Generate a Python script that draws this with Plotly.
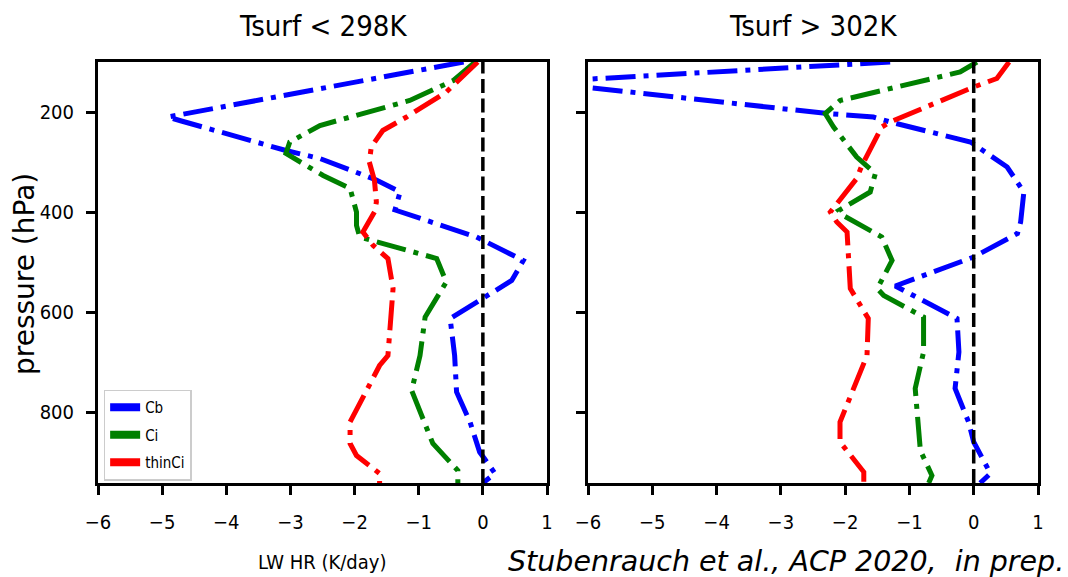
import plotly.graph_objects as go

# ---------------- data ----------------
# Left panel: Tsurf < 298K
cb_left_p = [100, 210, 218, 277, 293, 336, 360, 396, 450, 497, 537, 613, 687, 760, 820, 880, 923, 942]
cb_left_x = [-0.30, -4.91, -4.70, -3.07, -2.54, -1.66, -1.29, -1.37, -0.10, 0.63, 0.45, -0.51, -0.44, -0.41, -0.20, -0.05, 0.19, 0.00]

ci_left_p = [100, 137, 177, 227, 260, 283, 327, 353, 400, 427, 450, 493, 540, 610, 687, 757, 863, 917, 942]
ci_left_x = [-0.12, -0.46, -1.14, -2.54, -3.01, -3.07, -2.49, -2.07, -1.97, -1.97, -1.92, -0.72, -0.57, -0.90, -0.98, -1.11, -0.78, -0.39, -0.39]

thin_left_p = [100, 160, 210, 237, 270, 300, 337, 380, 400, 440, 467, 493, 553, 687, 707, 820, 863, 887, 923, 942]
thin_left_x = [-0.08, -0.57, -1.19, -1.56, -1.74, -1.77, -1.69, -1.66, -1.69, -1.87, -1.71, -1.48, -1.40, -1.48, -1.61, -2.07, -2.07, -1.97, -1.61, -1.61]

# Right panel: Tsurf > 302K
cb_right_p = [100, 140, 203, 210, 220, 243, 260, 310, 360, 420, 443, 490, 548, 613, 680, 753, 820, 860, 923, 942]
cb_right_x = [-1.30, -6.78, -2.28, -1.56, -1.30, -0.62, -0.05, 0.52, 0.78, 0.73, 0.68, 0.00, -1.22, -0.26, -0.23, -0.29, -0.08, 0.00, 0.26, 0.10]

ci_right_p = [100, 120, 177, 203, 230, 290, 323, 360, 397, 407, 450, 497, 553, 567, 610, 680, 753, 877, 927, 942]
ci_right_x = [0.05, -0.21, -2.08, -2.31, -2.18, -1.82, -1.53, -1.61, -2.10, -2.03, -1.43, -1.27, -1.50, -1.40, -0.78, -0.78, -0.91, -0.83, -0.65, -0.70]

thin_right_p = [100, 133, 150, 220, 230, 307, 333, 400, 420, 440, 553, 613, 687, 820, 860, 920, 942]
thin_right_x = [0.55, 0.36, 0.00, -1.30, -1.43, -1.74, -1.82, -2.23, -2.13, -1.97, -1.92, -1.64, -1.66, -2.08, -2.08, -1.71, -1.71]

series_names = ["Cb", "Ci", "thinCi"]
series_colors = ["blue", "green", "red"]
titles = ["Tsurf < 298K", "Tsurf > 302K"]
x_ticks = [-6, -5, -4, -3, -2, -1, 0, 1]
y_ticks = [200, 400, 600, 800]

# ---------------- figure ----------------
COND = "DejaVu Sans Condensed, Liberation Sans Narrow, DejaVu Sans"
DASHDOT = "30px,8px,5px,8px"
LW = 5

fig = go.Figure()

panels = [
    ("x", "y", [(cb_left_x, cb_left_p), (ci_left_x, ci_left_p), (thin_left_x, thin_left_p)]),
    ("x2", "y2", [(cb_right_x, cb_right_p), (ci_right_x, ci_right_p), (thin_right_x, thin_right_p)]),
]
for xa, ya, sers in panels:
    for (xs, ps), name, col in zip(sers, series_names, series_colors):
        fig.add_trace(go.Scatter(
            x=xs, y=ps, mode="lines", name=name, xaxis=xa, yaxis=ya,
            line=dict(color=col, width=LW, dash=DASHDOT),
            showlegend=False, hoverinfo="skip"))

# legend proxies (solid swatches)
for i, (name, col) in enumerate(zip(series_names, series_colors)):
    fig.add_trace(go.Scatter(
        x=[None], y=[None], mode="lines", name=name, xaxis="x", yaxis="y",
        line=dict(color=col, width=8), legendgroup="g%d" % i, showlegend=True))

# zero lines
for xr, yr in [("x", "y domain"), ("x2", "y2 domain")]:
    fig.add_shape(type="line", xref=xr, yref=yr, x0=0, x1=0, y0=0, y1=1,
                  line=dict(color="black", width=3.5, dash="14px,5.5px"))

axis_common = dict(
    showline=True, linecolor="black", linewidth=3, mirror=True,
    ticks="outside", ticklen=9, tickwidth=2.5, tickcolor="black",
    showgrid=False, zeroline=False,
    tickfont=dict(family=COND, size=20, color="black"),
)

left_dom = [0, 449 / 940]
right_dom = [490 / 940, 1]

fig.update_layout(
    width=1068, height=577,
    margin=dict(l=98, r=30, t=62, b=94),
    paper_bgcolor="white", plot_bgcolor="white",
    showlegend=True,
    legend=dict(
        x=0.006, y=0.222, xanchor="left", yanchor="top",
        bgcolor="rgba(255,255,255,0.85)", bordercolor="#cccccc", borderwidth=1.5,
        font=dict(family=COND, size=15, color="black"),
        itemwidth=30, tracegroupgap=5,
    ),
    xaxis=dict(domain=left_dom, range=[-6, 1], tickvals=x_ticks,
               ticktext=["\u2212%d" % -v if v < 0 else str(v) for v in x_ticks],
               anchor="y", ticklabelstandoff=10, **axis_common),
    xaxis2=dict(domain=right_dom, range=[-6, 1], tickvals=x_ticks,
                ticktext=["\u2212%d" % -v if v < 0 else str(v) for v in x_ticks],
                anchor="y2", ticklabelstandoff=10, **axis_common),
    yaxis=dict(range=[942, 100], tickvals=y_ticks, anchor="x", ticklabelstandoff=8,
               **axis_common),
    yaxis2=dict(range=[942, 100], tickvals=y_ticks, anchor="x2", showticklabels=False,
                **axis_common),
)

# titles
for dom, t in zip([left_dom, right_dom], titles):
    fig.add_annotation(text=t, xref="paper", yref="paper",
                       x=(dom[0] + dom[1]) / 2, y=(483 - 26) / 421,
                       xanchor="center", yanchor="middle", showarrow=False,
                       font=dict(family=COND, size=29, color="black"))

# axis labels
fig.add_annotation(text="pressure (hPa)", xref="paper", yref="paper",
                   x=(24 - 98) / 940, y=(483 - 274) / 421, textangle=-90,
                   xanchor="center", yanchor="middle", showarrow=False,
                   font=dict(family="DejaVu Sans", size=28, color="black"))
fig.add_annotation(text="LW HR (K/day)", xref="paper", yref="paper",
                   x=(322 - 98) / 940, y=(483 - 562) / 421,
                   xanchor="center", yanchor="middle", showarrow=False,
                   font=dict(family=COND, size=20, color="black"))
fig.add_annotation(text="<i>Stubenrauch et al., ACP 2020,&nbsp; in prep.</i>",
                   xref="paper", yref="paper",
                   x=(1066 - 98) / 940, y=(483 - 561) / 421,
                   xanchor="right", yanchor="middle", showarrow=False,
                   font=dict(family="DejaVu Sans", size=28.5, color="black"))

fig.write_html("out.html")
